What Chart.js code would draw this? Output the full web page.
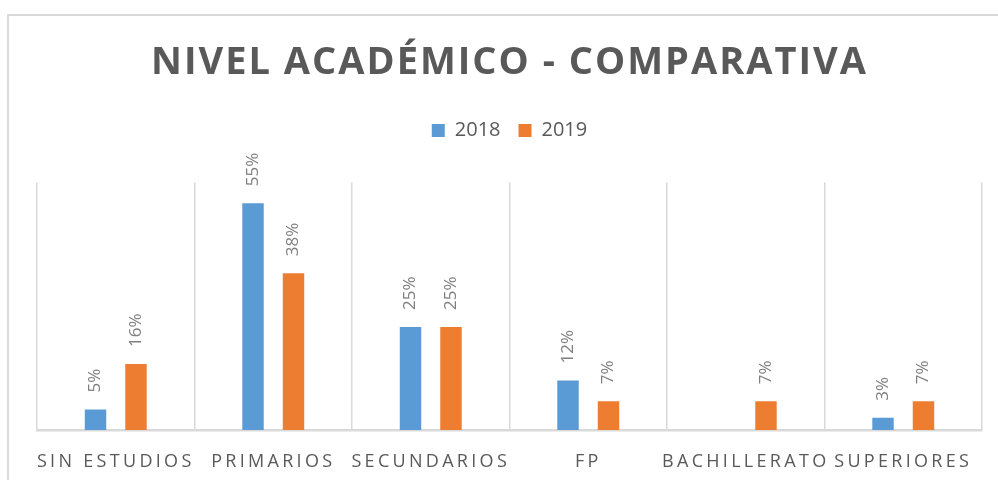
<!DOCTYPE html>
<html>
<head>
<meta charset="utf-8">
<script src="https://cdn.jsdelivr.net/npm/chart.js@4/dist/chart.umd.min.js"></script>
<style>
  html, body { margin: 0; padding: 0; background: #fff; overflow: hidden; }
  #marco { position: absolute; left: 7px; top: 14px; width: 1100px; height: 600px; border: 2px solid #d9d9d9; }
  #contenedor { position: absolute; left: 0; top: 0; width: 998px; height: 480px; }
</style>
</head>
<body>
<div id="marco"></div>
<div id="contenedor"><canvas id="grafico"></canvas></div>
<script>
// Datos del gráfico
const categorias = ['SIN ESTUDIOS', 'PRIMARIOS', 'SECUNDARIOS', 'FP', 'BACHILLERATO', 'SUPERIORES']
const valores2018 = [5, 55, 25, 12, 0, 3]
const valores2019 = [16, 38, 25, 7, 7, 7]
const series = ['2018', '2019']

const gris = '#595959'

// Espaciado de letras en título y etiquetas del eje.
function espaciar(obj, fn, sp) {
  if (!obj || obj['_esp_' + fn]) return
  const original = obj[fn]
  obj[fn] = function (...args) {
    const ctx = this.ctx
    ctx.save()
    ctx.letterSpacing = sp
    original.apply(this, args)
    ctx.restore()
  }
  obj['_esp_' + fn] = true
}

const espaciadoPlugin = {
  id: 'espaciado',
  beforeInit(chart) {
    const fitOriginal = chart.legend.fit
    chart.legend.fit = function () {
      fitOriginal.bind(chart.legend)()
      this.height += 32
    }
  },
  beforeDraw(chart) {
    espaciar(chart.scales.x, 'drawLabels', '3.3px')
    espaciar(chart.titleBlock, 'draw', '2px')
  }
}

// Etiquetas de datos giradas.
const etiquetasPlugin = {
  id: 'etiquetas',
  afterDatasetsDraw(chart) {
    const ctx = chart.ctx
    chart.data.datasets.forEach((ds, i) => {
      chart.getDatasetMeta(i).data.forEach((barra, j) => {
        const v = ds.data[j]
        if (!v) return
        ctx.save()
        ctx.translate(barra.x, barra.y - 17)
        ctx.rotate(-Math.PI / 2)
        ctx.font = '17px "Open Sans"'
        ctx.fillStyle = '#7f7f7f'
        ctx.textAlign = 'left'
        ctx.textBaseline = 'middle'
        ctx.fillText(v + '%', 0, 0)
        ctx.restore()
      })
    })
  }
}

new Chart(document.getElementById('grafico'), {
  type: 'bar',
  data: {
    labels: categorias,
    datasets: [{
      label: series[0],
      data: valores2018,
      backgroundColor: '#5b9bd5',
      categoryPercentage: 0.514,
      barPercentage: 0.53
    }, {
      label: series[1],
      data: valores2019,
      backgroundColor: '#ed7d31',
      categoryPercentage: 0.514,
      barPercentage: 0.53
    }]
  },
  options: {
    responsive: true,
    maintainAspectRatio: false,
    animation: false,
    layout: { padding: { left: 37, right: 16, top: 0, bottom: 7 } },
    plugins: {
      title: {
        display: true,
        text: 'NIVEL ACADÉMICO - COMPARATIVA',
        color: gris,
        font: { family: 'Open Sans', size: 38, weight: 'bold' },
        padding: { top: 40, bottom: 17 }
      },
      legend: {
        labels: {
          color: gris,
          font: { family: 'Open Sans', size: 20 },
          boxWidth: 13,
          boxHeight: 13,
          padding: 18
        }
      },
      tooltip: { enabled: false }
    },
    scales: {
      x: {
        grid: { color: '#d9d9d9', lineWidth: 1.5, drawTicks: false },
        border: { color: '#d9d9d9', width: 2.5 },
        ticks: {
          color: gris,
          font: { family: 'Open Sans', size: 18 },
          padding: 21,
          autoSkip: false,
          maxRotation: 0
        },
        afterFit(scale) {
          scale.height = 43
        }
      },
      y: {
        display: false,
        min: 0,
        max: 60
      }
    }
  },
  plugins: [espaciadoPlugin, etiquetasPlugin]
})
</script>
</body>
</html>
